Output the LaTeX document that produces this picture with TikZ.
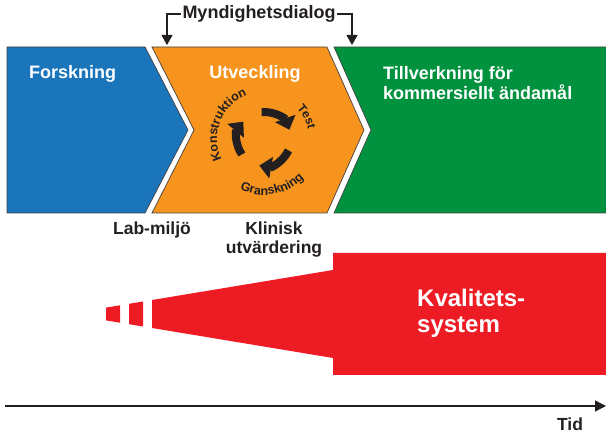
\documentclass[tikz,border=0pt]{standalone}
\usepackage{fontspec}
\setmainfont{Liberation Sans}
\usetikzlibrary{arrows.meta,decorations.text}
\definecolor{fblue}{RGB}{27,117,187}
\definecolor{forange}{RGB}{247,148,29}
\definecolor{fgreen}{RGB}{0,146,63}
\definecolor{fred}{RGB}{237,28,36}
\definecolor{ink}{RGB}{35,31,32}
\tikzset{
  phase/.style={draw=ink!85, line width=0.7pt},
  headtext/.style={font=\fontsize{18}{20}\selectfont\bfseries, text=white, inner sep=0pt},
  labeltext/.style={font=\fontsize{17.5}{19.5}\selectfont\bfseries, text=ink, inner sep=0pt},
  cyclearrow/.style={line width=8pt, draw=ink, -{Triangle[length=12pt,width=21pt]}},
  bracket/.style={draw=ink, line width=1.1pt, -{Triangle[length=10pt,width=11pt]}},
}
\begin{document}
\begin{tikzpicture}[x=1pt,y=-1pt]
\useasboundingbox (0,0) rectangle (606,435);

% phase chevrons
\filldraw[phase, fill=fblue] (7,47) -- (145,47) -- (188,130) -- (145,213) -- (7,213) -- cycle;
\filldraw[phase, fill=forange] (152,47) -- (327,47) -- (364,130) -- (327,213) -- (152,213) -- (194,130) -- cycle;
\filldraw[phase, fill=fgreen] (334,47) -- (610,47) -- (610,213) -- (334,213) -- (371,130) -- cycle;

\node[headtext, anchor=base west] (fors) at (29,79) {Forskning};
\node[headtext, anchor=base] (utv) at (255,79) {Utveckling};
% multi-line nodes: the base anchor sits on the last line
\node[headtext, anchor=base west, align=left] (till) at (383,100)
  {Tillverkning för\\kommersiellt ändamål};

% authority dialogue bracket
\node[font=\fontsize{18}{20}\selectfont\bfseries, text=ink, inner sep=1.5pt] (myn) at (259,14) {Myndighetsdialog};
\coordinate (mynL) at (167,45);
\coordinate (mynR) at (352,45);
\draw[bracket] (myn.west) -| (mynL);
\draw[bracket] (myn.east) -| (mynR);

% development cycle
\coordinate (cyc) at (264,139);
\draw[cyclearrow] ([shift={(-95:27)}]cyc) arc[start angle=-95, end angle=-20, radius=27];
\draw[cyclearrow] ([shift={(25:27)}]cyc) arc[start angle=25, end angle=100, radius=27];
\draw[cyclearrow] ([shift={(145:27)}]cyc) arc[start angle=145, end angle=220, radius=27];

\path[decorate, decoration={text along path, text align=center,
    text={|\fontsize{12.5}{12.5}\selectfont\bfseries\color{ink}|Konstruktion}}]
  ([shift={(145:47)}]cyc) arc[start angle=145, end angle=258, radius=47];
\path[decorate, decoration={text along path, text align=center,
    text={|\fontsize{12}{12}\selectfont\bfseries\color{ink}|Test}}]
  ([shift={(-55:45)}]cyc) arc[start angle=-55, end angle=0, radius=45];
\path[decorate, decoration={text along path, text align=center,
    text={|\fontsize{12.5}{12.5}\selectfont\bfseries\color{ink}|Granskning}}]
  ([shift={(135:56)}]cyc) arc[start angle=135, end angle=25, radius=56];

% stage labels
\node[labeltext, anchor=base] (lab) at (152,235) {Lab-miljö};
\node[labeltext, anchor=base, align=center] (klin) at (274,254) {Klinisk\\utvärdering};

% quality system wedge
\fill[fred] (333,253) -- (610,253) -- (610,375) -- (333,375) -- (333,358) -- (152,328) -- (152,300) -- (333,270) -- cycle;
\fill[fred] (129,303.8) -- (143,301.5) -- (143,326.5) -- (129,324.2) -- cycle;
\fill[fred] (106,307.6) -- (120,305.3) -- (120,322.7) -- (106,320.4) -- cycle;
\node[font=\fontsize{24}{26}\selectfont\bfseries, text=white, align=left, anchor=base west, inner sep=0pt] (kval) at (417,333)
  {Kvalitets-\\system};

% time axis
\coordinate (t0) at (5,406);
\coordinate (t1) at (606,406);
\draw[draw=ink, line width=1.3pt, -{Triangle[length=11pt,width=11pt]}] (t0) -- (t1);
\node[labeltext, anchor=base] (tid) at (570,431) {Tid};
\end{tikzpicture}
\end{document}
